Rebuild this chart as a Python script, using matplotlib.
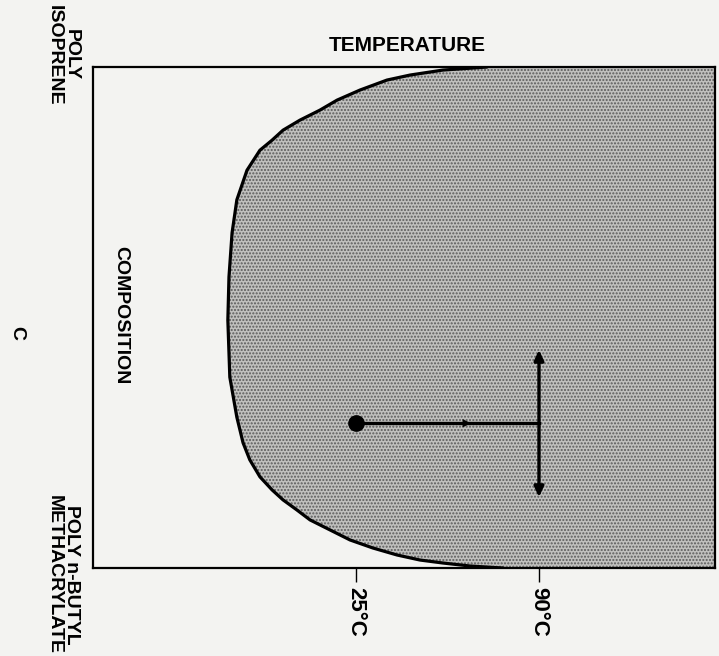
import numpy as np
import matplotlib.pyplot as plt

plt.rcParams['font.family'] = ['Liberation Sans', 'DejaVu Sans']

# phase boundary: temperature (deg C) vs composition (0 = PI, 1 = PnBMA)
curve_phi = [0.0, 0.006, 0.016, 0.026, 0.046, 0.066, 0.086, 0.106, 0.126, 0.146, 0.166,
             0.206, 0.265, 0.331, 0.419, 0.505, 0.619, 0.699, 0.750, 0.784, 0.818, 0.844,
             0.864, 0.884, 0.904, 0.924, 0.944, 0.960, 0.974, 0.984, 0.990, 0.996, 1.0]
curve_T = [71.5, 55.9, 44.2, 36.0, 26.4, 18.3, 12.2, 5.1, -0.9, -4.8, -9.1,
           -13.7, -17.3, -19.0, -20.1, -20.5, -19.8, -17.3, -15.1, -12.7, -9.1, -4.8,
           -0.9, 4.0, 8.7, 15.8, 22.9, 31.0, 39.6, 47.7, 55.9, 65.5, 77.2]

tick_temps = [25, 90]
tick_labels = ['25°C', '90°C']

quench_T = 25
anneal_T = 90
blend_phi = 0.711
mid_arrow_T = 64.8
spread_phi = [0.559, 0.864]

T_min, T_max = -68.4, 152.5

fig = plt.figure(figsize=(7.19, 6.56), dpi=100)
fig.patch.set_facecolor('#f3f3f1')
ax = fig.add_axes([0.1293, 0.1341, 0.8651, 0.7637])
ax.set_facecolor('#f3f3f1')

ax.fill_betweenx(curve_phi, curve_T, T_max, facecolor='#c0c0be', edgecolor='#5a5a5a',
                 hatch='.....', linewidth=0, zorder=1)
ax.plot(curve_T, curve_phi, color='black', lw=2.3, solid_capstyle='round',
        solid_joinstyle='round', zorder=3)

# quench / anneal path
ax.plot([quench_T, anneal_T], [blend_phi, blend_phi], color='black', lw=2.4, zorder=4)
ax.plot([quench_T], [blend_phi], 'o', color='black', ms=11, zorder=5)
ax.annotate('', xy=(mid_arrow_T + 2, blend_phi), xytext=(mid_arrow_T - 2, blend_phi),
            arrowprops=dict(arrowstyle='-|>,head_length=0.6,head_width=0.3', color='black', lw=0),
            zorder=5)
ax.annotate('', xy=(anneal_T, spread_phi[0]), xytext=(anneal_T, spread_phi[1]),
            arrowprops=dict(arrowstyle='<|-|>,head_length=0.6,head_width=0.28', color='black', lw=2.4),
            zorder=5)

ax.set_xlim(T_min, T_max)
ax.set_ylim(1, 0)
ax.set_xticks(tick_temps)
ax.set_xticklabels(tick_labels, rotation=-90, fontsize=16, fontweight='bold')
ax.tick_params(axis='x', direction='out', length=10, width=1.0, pad=4)
ax.set_yticks([])
for s in ax.spines.values():
    s.set_linewidth(1.6)

ax.text(0.506, 1.025, 'TEMPERATURE', transform=ax.transAxes, ha='center', va='bottom',
        fontsize=15, fontweight='bold')
ax.text(0.044, 0.504, 'COMPOSITION', transform=ax.transAxes, ha='center', va='center',
        rotation=-90, fontsize=14, fontweight='bold')

fig.text(0.023, 0.492, 'C', ha='center', va='center', rotation=-90, fontsize=14, fontweight='bold')
fig.text(0.087, 0.993, 'POLY\nISOPRENE', ha='center', va='top', rotation=-90,
         fontsize=14, fontweight='bold', linespacing=1.0)
fig.text(0.087, 0.003, 'POLY n-BUTYL\nMETHACRYLATE', ha='center', va='bottom', rotation=-90,
         fontsize=14, fontweight='bold', linespacing=1.0)

plt.savefig('out.png', dpi=100, facecolor=fig.get_facecolor())
